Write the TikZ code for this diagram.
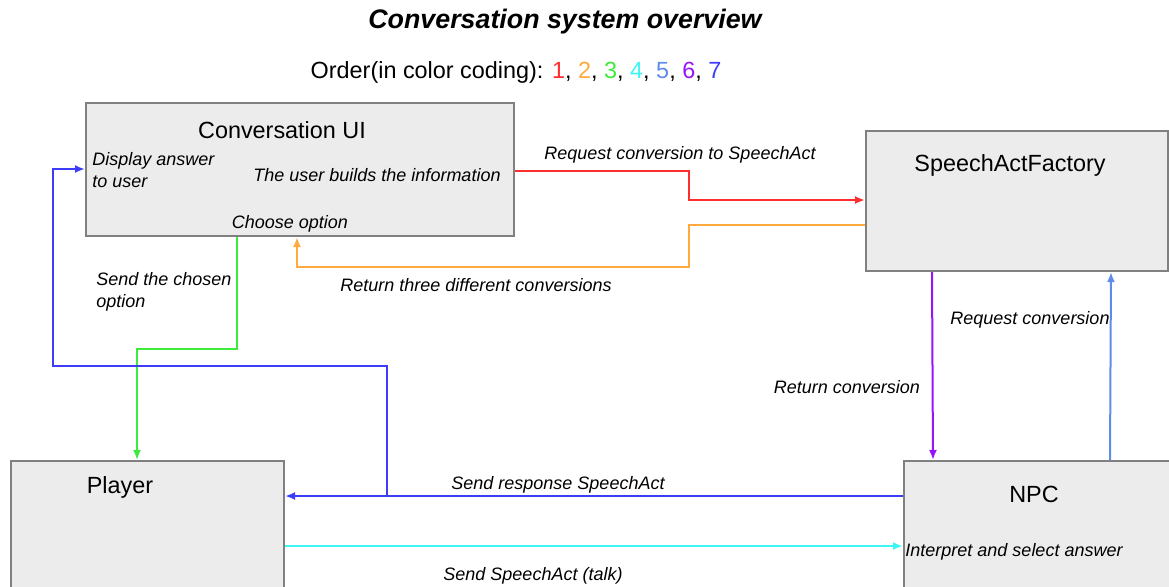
\documentclass[tikz,border=0pt]{standalone}
\usepackage{fontspec}
\setmainfont{Liberation Sans}
\usepackage{xcolor}
\usetikzlibrary{arrows.meta}
\definecolor{boxfill}{RGB}{236,236,236}
\definecolor{boxline}{RGB}{128,128,128}
\definecolor{ordA}{RGB}{255,45,45}
\definecolor{ordB}{RGB}{255,170,60}
\definecolor{ordC}{RGB}{60,235,60}
\definecolor{ordD}{RGB}{60,245,245}
\definecolor{ordE}{RGB}{95,140,235}
\definecolor{ordF}{RGB}{150,20,250}
\definecolor{ordG}{RGB}{60,60,250}

\begin{document}
\begin{tikzpicture}[>={Latex[length=5pt,width=4pt]}, x=0.5pt, y=-0.5pt,
    box/.style={draw=boxline, fill=boxfill, line width=1pt, anchor=north west, inner sep=0pt},
    boxname/.style={font=\fontsize{11.7}{14}\selectfont, inner sep=0pt},
    note/.style={font=\fontsize{9}{11}\selectfont\itshape, inner sep=0pt, align=left},
    flow/.style={->, line width=1pt}]
    \clip (0,0) rectangle (1169,586);
    \node[box, minimum width=214pt, minimum height=66.5pt] (ui) at (85,102) {};
    \node[box, minimum width=151pt, minimum height=70pt] (fac) at (865,130) {};
    \node[box, minimum width=136.5pt, minimum height=66pt] (player) at (10,460) {};
    \node[box, minimum width=136pt, minimum height=66pt] (npc) at (903,460) {};
    \node[font=\fontsize{13.4}{16}\selectfont\bfseries\itshape, inner sep=0pt] (heading) at (565,22) {Conversation system overview};
    \node[boxname] (order) at (516,72) {Order(in color coding): \textcolor{ordA}{1}, \textcolor{ordB}{2}, \textcolor{ordC}{3}, \textcolor{ordD}{4}, \textcolor{ordE}{5}, \textcolor{ordF}{6}, \textcolor{ordG}{7}};
    \node[boxname] (uiname) at (282,130) {Conversation UI};
    \node[boxname] (facname) at (1010,165) {SpeechActFactory};
    \node[boxname] (playername) at (120,487) {Player};
    \node[boxname] (npcname) at (1034,494) {NPC};
    \node[note, anchor=north west] (display) at (92,152) {Display answer\\to user};
    \node[note] (builds) at (377,175) {The user builds the information};
    \node[note] (choose) at (290,224) {Choose option};
    \node[note] (interpret) at (1014,552) {Interpret and select answer};
    \node[note] (reqsa) at (680,155) {Request conversion to SpeechAct};
    \node[note] (retthree) at (476,285) {Return three different conversions};
    \node[note, anchor=north west] (sendopt) at (96,272) {Send the chosen\\option};
    \node[note] (reqconv) at (1030,320) {Request conversion};
    \node[note] (retconv) at (847,387) {Return conversion};
    \node[note] (sendresp) at (558,485) {Send response SpeechAct};
    \node[note] (sendtalk) at (533,576) {Send SpeechAct (talk)};
    \coordinate (split) at (387,496);
    \draw[flow, ordA] (ui.east |- 0,171) -| (689,200) -- (fac.west |- 0,200);
    \draw[flow, ordB] (fac.west |- 0,225) -| (689,267) -| (ui.south -| 297,0);
    \draw[flow, ordC] (ui.south -| 237,0) |- (137,349) -- (player.north -| 137,0);
    \draw[flow, ordD] (player.east |- 0,546) -- (npc.west |- 0,546);
    \draw[flow, ordE] (npc.north -| 1110,0) -- (fac.south -| 1111,0);
    \draw[flow, ordF] (fac.south -| 932,0) -- (npc.north -| 933,0);
    \draw[flow, ordG] (npc.west |- split) -- (player.east |- split);
    \draw[flow, ordG] (split) |- (53,366) |- (ui.west |- 0,169);
\end{tikzpicture}
\end{document}
